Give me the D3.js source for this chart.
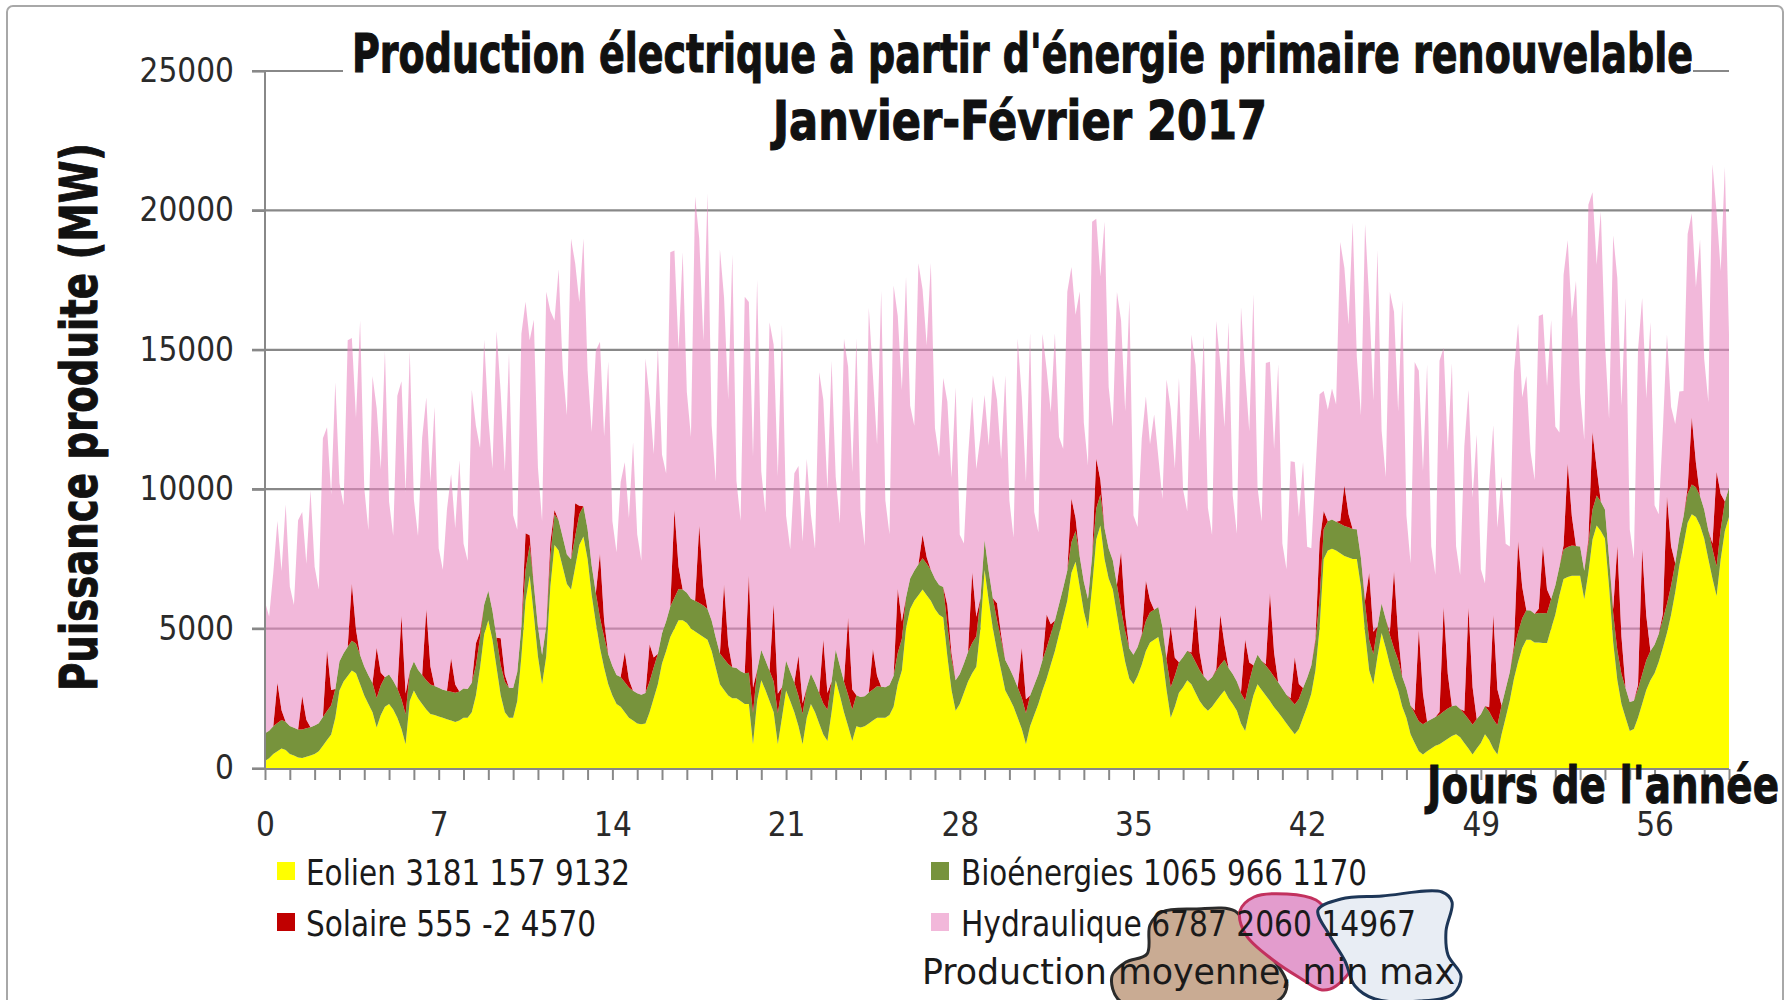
<!DOCTYPE html>
<html><head><meta charset="utf-8">
<script src="https://cdn.jsdelivr.net/npm/d3@7"></script>
<style>body{margin:0;background:#fff}svg{display:block}</style>
</head><body>
<svg id="c" width="1790" height="1000"></svg>
<script>
// time step between samples (hours); samples start on day 0 at 0h
const stepHours = 4;

// Eolien (MW), 6 samples per day (0h,4h,8h,12h,16h,20h)
const eolien = [
250,350,500,600,700,650, 500,450,380,360,400,450, 500,600,800,1000,1200,1800, 2780,3100,3300,3500,3400,3000,
2600,2300,2000,1450,1900,2200, 2300,2100,1800,1400,850,2400, 2780,2500,2300,2100,1940,1900, 1850,1800,1750,1700,1650,1700,
1800,1800,2000,2600,3600,4800, 5300,4600,3600,2600,2000,1800, 1800,2400,4000,6000,6900,5500, 4000,3000,4000,6500,8000,7800,
7200,6600,6400,7200,8000,8300, 7500,6200,5200,4300,3600,3000, 2600,2300,2200,2000,1800,1700, 1600,1570,1600,2000,2500,3000,
3750,4200,4700,5000,5300,5300, 5200,5000,4900,4800,4700,4600, 4200,3600,3000,2800,2600,2500, 2500,2400,2300,2300,850,2400,
3150,2800,2400,2000,850,1800, 2780,2400,2000,1500,850,1800, 2300,2000,1600,1200,970,2000, 3150,2600,2000,1500,970,1500,
1450,1500,1600,1700,1800,1800, 1800,1900,2200,3000,3500,5000, 5700,6000,6200,6400,6200,6000, 5700,5500,5400,4000,2800,2050,
2300,2700,3100,3400,3630,5000, 7100,6000,5000,4200,3500,2780, 2500,2200,1800,1400,850,1500, 1900,2300,2780,3200,3700,4200,
4800,5400,6000,7000,7400,6500, 5600,5000,6500,8200,8700,7500, 6800,6400,5500,4600,3800,3200, 3000,3300,3700,4200,4500,4600,
4700,4000,2800,1800,2200,2700, 2900,3150,3000,2700,2400,2200, 2050,2200,2400,2600,2780,2500, 2300,2050,1600,1330,2000,2600,
3000,2800,2600,2400,2180,2000, 1800,1600,1400,1210,1400,1800, 2200,2660,3500,5000,7500,7800, 7860,7800,7700,7600,7550,7500,
7500,6500,4840,3500,3000,4000, 4840,4300,3700,3200,2780,2200, 1800,1210,900,600,480,600, 700,800,850,950,1050,1150,
1210,1100,900,700,480,700, 900,1210,1000,700,480,1200, 1800,2420,3200,3800,4300,4600, 4600,4500,4500,4480,4480,5000,
5500,6200,6780,6850,6900,6900, 6900,6050,7000,8200,8700,8500, 8230,6500,4500,3150,2300,1800, 1330,1400,1800,2300,2800,3150,
3400,3800,4300,4840,5500,6300, 7260,8000,8800,9100,9000,8700, 8230,7500,6800,6170,7500,8500, 9000
];

// Bioénergies (MW)
const bioenergies = [
1000,985,995,1010,1020,1005, 1010,995,1005,1020,1030,1015, 1020,1005,1030,1045,1050,1035, 1040,1020,1045,1060,1065,1050,
1045,1025,1050,1065,1070,1055, 1050,1030,1055,1070,1075,1060, 1040,1020,1035,1050,1055,1045, 1030,1010,1020,1035,1045,1040,
1050,1030,1060,1075,1080,1065, 1060,1040,1070,1085,1090,1075, 1065,1045,1075,1090,1095,1080, 1070,1050,1080,1095,1100,1085,
1075,1055,1085,1100,1105,1090, 1070,1050,1075,1090,1095,1080, 1060,1040,1060,1075,1085,1075, 1080,1060,1090,1105,1110,1095,
1085,1065,1095,1110,1120,1100, 1090,1070,1100,1115,1125,1105, 1095,1075,1105,1120,1130,1110, 1090,1070,1100,1115,1125,1105,
1085,1065,1090,1105,1115,1100, 1070,1050,1070,1085,1095,1085, 1085,1065,1095,1110,1120,1100, 1090,1070,1100,1115,1125,1105,
1095,1075,1105,1120,1130,1110, 1100,1080,1110,1125,1135,1115, 1095,1075,1105,1120,1130,1110, 1085,1065,1090,1105,1115,1100,
1070,1050,1070,1085,1095,1085, 1080,1060,1090,1105,1110,1095, 1085,1065,1095,1110,1115,1100, 1080,1060,1090,1105,1110,1095,
1075,1055,1085,1100,1105,1090, 1080,1060,1090,1105,1110,1095, 1070,1050,1075,1090,1100,1085, 1060,1040,1060,1075,1085,1075,
1075,1055,1085,1100,1105,1090, 1080,1060,1090,1105,1110,1095, 1075,1055,1085,1100,1105,1090, 1070,1050,1080,1095,1100,1085,
1065,1045,1075,1090,1095,1080, 1050,1030,1050,1065,1075,1065, 1040,1020,1035,1050,1060,1050, 1055,1035,1065,1080,1085,1070,
1060,1040,1070,1085,1090,1075, 1060,1040,1070,1085,1090,1075, 1055,1035,1065,1080,1085,1070, 1050,1030,1060,1075,1080,1065,
1040,1020,1045,1060,1070,1055, 1030,1010,1030,1045,1055,1045, 1045,1025,1055,1070,1075,1060, 1050,1030,1060,1075,1080,1065,
1050,1030,1060,1075,1080,1065, 1045,1025,1055,1070,1075,1060, 1045,1025,1055,1070,1075,1060, 1035,1015,1040,1055,1065,1050,
1025,1005,1025,1040,1050,1040, 1040,1020,1050,1065,1070,1055, 1045,1025,1055,1070,1075,1060, 1050
];

// Solaire (MW)
const solaire = [
0,0,0,1450,350,0, 0,0,0,1200,300,0, 0,0,0,2180,550,0, 0,0,0,2060,500,0,
0,0,0,1800,450,0, 0,0,0,3000,750,0, 0,0,0,2540,650,0, 0,0,0,1200,300,0,
0,0,0,800,200,0, 0,0,0,970,250,0, 0,0,0,1330,350,0, 0,0,0,500,150,0,
0,0,0,1200,300,0, 0,0,0,2300,600,0, 0,0,0,1090,280,0, 0,0,0,1330,350,0,
0,0,0,3150,800,0, 0,0,0,2780,700,0, 0,0,0,2660,700,0, 0,0,0,3500,900,0,
0,0,0,2780,700,0, 0,0,0,1450,380,0, 0,0,0,2300,600,0, 0,0,0,2780,720,0,
0,0,0,1450,380,0, 0,0,0,2300,620,0, 0,0,0,850,230,0, 0,0,0,730,200,0,
0,0,0,2540,700,0, 0,0,0,600,170,0, 0,0,0,1800,500,0, 0,0,0,1200,350,0,
0,0,0,1570,450,0, 0,0,0,1800,520,0, 0,0,0,2060,600,0, 0,0,50,1450,430,0,
0,0,50,2180,650,0, 0,0,50,2060,620,0, 0,0,50,1800,550,0, 0,0,50,2180,680,0,
0,0,50,2780,870,0, 0,0,50,1700,540,0, 0,0,100,2060,660,0, 0,0,100,1450,470,0,
0,0,100,2420,800,0, 0,0,100,2780,920,0, 0,0,100,3270,1100,0, 0,0,100,3750,1250,0,
0,0,100,4000,1350,0, 0,0,150,3750,1280,0, 0,0,150,3270,1120,0, 0,0,150,2420,840,0,
0,0,150,3000,1050,0, 0,0,150,2780,980,0, 0,0,150,3750,1330,0, 0,0,150,4500,1600,0,
0,0,200,3870,1400,0, 0,0,200,2420,880,0, 0,0,200,3390,1250,0, 0
];

// Hydraulique (MW)
const hydraulique = [
4700,4100,5500,5800,5000,7800, 5000,4400,7500,6600,5600,8500, 5700,4800,10000,8000,7000,11000, 6400,5300,11000,8800,7600,12000,
6400,5200,11000,8600,7300,11700, 6200,5200,10500,8400,7200,11500, 5800,4800,8500,7600,6600,10000, 5000,4300,6500,6600,5600,8300,
5200,4600,10500,7800,6600,9500, 6200,5100,11000,8800,7300,12000, 6200,5100,10500,8300,7000,9500, 5700,4800,12000,8300,6800,9000,
6000,5000,11500,8600,7300,9600, 5700,4800,8700,7600,6600,10500, 5200,4400,7000,6800,5800,8900, 5700,4800,12000,8800,7300,11000,
6400,5300,12700,9300,7800,12100, 7200,5800,14500,10300,8800,14900, 7000,5600,14500,10300,8800,14800, 6700,5400,13500,9800,8300,14000,
6400,5300,12500,9300,7800,13000, 5200,4400,7500,6800,5800,8200, 5700,4800,11500,8600,7300,11500, 6200,5100,12300,9000,7800,12800,
6700,5400,13800,9800,8300,14200, 6700,5400,14000,9800,8300,11500, 6200,5200,10800,8800,7600,11000, 5400,4600,7500,7300,6300,10500,
5000,4300,7000,6300,5300,5800, 5200,4500,8000,7300,6300,10200, 6000,5000,12500,9000,7800,13000, 6200,5100,11700,8800,7600,10300,
6000,5000,10000,8300,7300,9500, 5700,4800,12000,8600,7300,11000, 5800,4800,10500,8300,7300,12500, 5000,4300,7000,6600,5600,7000,
5400,4600,10000,7800,6800,10200, 6000,5000,11400,8600,7600,12200, 6200,5100,12500,9000,7800,12400, 6400,5300,13800,9600,8300,13300,
6000,5000,10800,8300,7300,11400, 5200,4500,8500,7000,6000,8100, 4700,4200,6000,5300,4300,4000, 4700,4200,10000,7800,6800,11000,
6200,5100,13500,9800,8300,13500, 6200,5100,12200,9300,8000,13500, 6200,5100,12500,9300,8000,12800, 6200,5100,12600,9300,8000,12300,
5700,4800,9500,7800,6800,10200, 5200,4400,8000,6800,5800,8200, 5200,4500,9800,7800,6800,8400, 5700,4800,10500,8300,7300,10000,
5700,4800,9700,8000,7100,9500, 5500,4700,12000,8600,7300,10400, 6000,5000,13400,9600,8300,14000, 6200,5100,12000,9000,7800,11800,
5000,4300,6600,5800,5000,5000, 5200,4500,9100,7300,6300,9200, 5400,4600,13600,9300,8000,12000, 5500
];

const seriesKeys = ["Eolien", "Bioénergies", "Solaire", "Hydraulique"];
const seriesColors = {"Eolien": "#ffff00", "Bioénergies": "#77933c", "Solaire": "#c00000", "Hydraulique": "rgb(233,137,193)"};
const legendLabels = ["Eolien 3181 157 9132", "Solaire 555 -2 4570", "Bioénergies 1065 966 1170", "Hydraulique 6787 2060 14967"];
const xTickLabels = [0, 7, 14, 21, 28, 35, 42, 49, 56];
const yTickLabels = [0, 5000, 10000, 15000, 20000, 25000];
const dayCount = 59;

const n = Math.min(eolien.length, bioenergies.length, solaire.length, hydraulique.length);
const rows = d3.range(n).map(i => ({
  day: i * stepHours / 24,
  "Eolien": eolien[i], "Bioénergies": bioenergies[i], "Solaire": solaire[i], "Hydraulique": hydraulique[i]
}));

const svg = d3.select("#c");
const x = d3.scaleLinear().domain([0, dayCount]).range([265, 1729]);
const y = d3.scaleLinear().domain([0, 25000]).range([768, 71]);

// outer frame
svg.append("rect").attr("x", 7).attr("y", 6).attr("width", 1776).attr("height", 1100)
  .attr("rx", 6).attr("fill", "none").attr("stroke", "#a8a8a8").attr("stroke-width", 2);

// gridlines (behind areas)
svg.append("g").selectAll("line").data(yTickLabels.filter(v => v > 0)).join("line")
  .attr("x1", 252).attr("x2", 1729).attr("y1", d => y(d)).attr("y2", d => y(d))
  .attr("stroke", "#888").attr("stroke-width", 2.2);

// stacked areas
const stacked = d3.stack().keys(seriesKeys)(rows);
const area = d3.area().x(d => x(d.data.day)).y0(d => y(d[0])).y1(d => y(d[1]));
svg.append("g").selectAll("path").data(stacked).join("path")
  .attr("d", area)
  .attr("fill", d => seriesColors[d.key])
  .attr("fill-opacity", d => d.key === "Hydraulique" ? 0.6 : 1);

// y axis
const yAxis = d3.axisLeft(y).tickValues(yTickLabels).tickSize(13).tickPadding(18).tickFormat(d3.format("d"));
const gy = svg.append("g").attr("transform", "translate(265,0)").call(yAxis);
gy.select(".domain").attr("stroke", "#888").attr("stroke-width", 2).attr("d", "M0,71V768");
gy.selectAll(".tick line").attr("stroke", "#888").attr("stroke-width", 2.2);
gy.selectAll("text").attr("font-family", "'DejaVu Sans Condensed','DejaVu Sans',sans-serif")
  .attr("font-size", 33).attr("fill", "#2a2a2a");

// x axis: minor ticks every day, labels every week
const xAxis = d3.axisBottom(x).tickValues(d3.range(0, dayCount + 1)).tickSize(11).tickPadding(33)
  .tickFormat(d => xTickLabels.includes(d) ? d : "");
const gx = svg.append("g").attr("transform", "translate(0,769)").call(xAxis);
gx.select(".domain").attr("stroke", "#888").attr("stroke-width", 2).attr("d", "M252,0H1729");
gx.selectAll(".tick line").attr("stroke", "#888").attr("stroke-width", 2);
gx.selectAll("text").attr("font-family", "'DejaVu Sans Condensed','DejaVu Sans',sans-serif")
  .attr("font-size", 33).attr("fill", "#2a2a2a");

// title with white background hiding the top gridline
svg.append("rect").attr("x", 343).attr("y", 22).attr("width", 1350).attr("height", 62).attr("fill", "#fff");
const bold = "'DejaVu Sans','Open Sans',sans-serif";
svg.append("text").attr("x", 352).attr("y", 72).attr("font-family", bold).attr("font-weight", "bold")
  .attr("font-size", 53).attr("textLength", 1341).attr("lengthAdjust", "spacingAndGlyphs")
  .attr("fill", "#111").attr("stroke", "#111").attr("stroke-width", 1.2)
  .text("Production électrique à partir d'énergie primaire renouvelable");
svg.append("text").attr("x", 773).attr("y", 139).attr("font-family", bold).attr("font-weight", "bold")
  .attr("font-size", 53).attr("textLength", 494).attr("lengthAdjust", "spacingAndGlyphs")
  .attr("fill", "#111").attr("stroke", "#111").attr("stroke-width", 1.2)
  .text("Janvier-Février 2017");

// axis titles
svg.append("text").attr("transform", "translate(97,417) rotate(-90)").attr("text-anchor", "middle")
  .attr("font-family", bold).attr("font-weight", "bold").attr("font-size", 51)
  .attr("textLength", 548).attr("lengthAdjust", "spacingAndGlyphs")
  .attr("fill", "#111").attr("stroke", "#111").attr("stroke-width", 1)
  .text("Puissance produite (MW)");
svg.append("text").attr("x", 1427).attr("y", 803)
  .attr("font-family", bold).attr("font-weight", "bold").attr("font-size", 52)
  .attr("textLength", 352).attr("lengthAdjust", "spacingAndGlyphs")
  .attr("fill", "#111").attr("stroke", "#111").attr("stroke-width", 1)
  .text("Jours de l'année");

// hand-drawn highlight blobs
const blobLine = d3.line().curve(d3.curveCatmullRomClosed.alpha(0.5));
const blobs = [
  {fill: "#c9ab93", stroke: "#2b2b2b", pts: [[1150,925],[1162,912],[1195,909],[1235,911],[1250,933],[1270,955],[1287,985],[1276,1002],[1200,1004],[1120,1001],[1112,976],[1126,962],[1147,954]]},
  {fill: "#e39ccd", stroke: "#c2315e", pts: [[1240,911],[1254,897],[1287,894],[1316,900],[1331,916],[1348,944],[1352,966],[1336,986],[1322,990],[1300,978],[1273,960],[1246,935]]},
  {fill: "#e8edf4", stroke: "#1d3657", pts: [[1318,910],[1341,899],[1382,896],[1442,892],[1452,902],[1446,931],[1448,955],[1461,976],[1453,994],[1420,1001],[1375,999],[1355,986],[1345,961],[1330,936]]}
];
svg.append("g").selectAll("path").data(blobs).join("path")
  .attr("d", d => blobLine(d.pts)).attr("fill", d => d.fill).attr("stroke", d => d.stroke)
  .attr("stroke-width", 3);

// legend
const legendFont = "'DejaVu Sans Condensed','DejaVu Sans',sans-serif";
const legendItems = [
  {key: "Eolien", label: legendLabels[0], sx: 277, tx: 306, base: 885, w: 324},
  {key: "Solaire", label: legendLabels[1], sx: 277, tx: 306, base: 936, w: 290},
  {key: "Bioénergies", label: legendLabels[2], sx: 931, tx: 961, base: 885, w: 406},
  {key: "Hydraulique", label: legendLabels[3], sx: 931, tx: 961, base: 936, w: 455}
];
const lg = svg.append("g");
lg.selectAll("rect").data(legendItems).join("rect")
  .attr("x", d => d.sx).attr("y", d => d.base - 23).attr("width", 18).attr("height", 18)
  .attr("fill", d => d.key === "Hydraulique" ? "#f2b8da" : seriesColors[d.key]);
lg.selectAll("text").data(legendItems).join("text")
  .attr("x", d => d.tx).attr("y", d => d.base).attr("font-family", legendFont).attr("font-size", 36)
  .attr("textLength", d => d.w).attr("lengthAdjust", "spacingAndGlyphs").attr("fill", "#1a1a1a")
  .text(d => d.label);
svg.append("text").attr("x", 922).attr("y", 984).attr("font-family", legendFont).attr("font-size", 36)
  .attr("textLength", 533).attr("lengthAdjust", "spacingAndGlyphs").attr("fill", "#1a1a1a")
  .text("Production moyenne, min max");
</script>
</body></html>
